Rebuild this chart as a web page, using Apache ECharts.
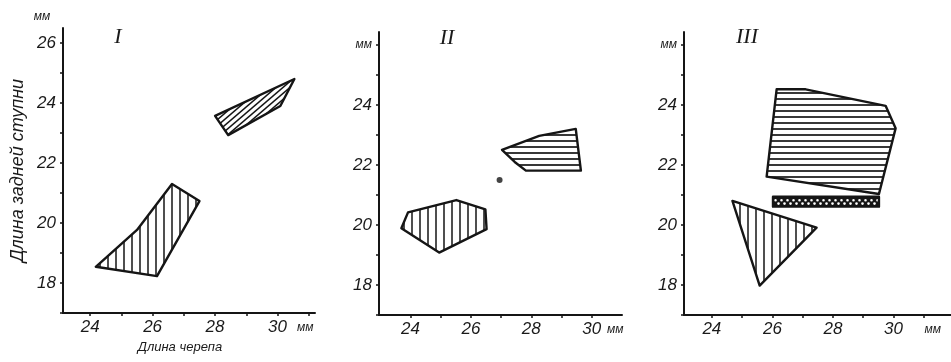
<!DOCTYPE html>
<html>
<head>
<meta charset="utf-8">
<script src="https://cdn.jsdelivr.net/npm/echarts@6/dist/echarts.min.js"></script>
<style>html,body{margin:0;padding:0;background:#fff}#c{width:951px;height:362px}</style>
</head>
<body>
<div id="c"></div>
<script>
// ---- data ----
const yTicks = [17, 18, 19, 20, 21, 22, 23, 24, 25, 26];
const yLabels = [18, 20, 22, 24, 26];
const xTicks = [24, 25, 26, 27, 28, 29, 30, 31];
const xLabels = [24, 26, 28, 30];
const panelNames = ['I', 'II', 'III'];

// Panel I
const p1Upper = [[28.0, 23.57], [28.42, 22.93], [30.09, 23.9], [30.54, 24.8]];
const p1Lower = [[24.18, 18.54], [26.14, 18.23], [27.5, 20.73], [26.62, 21.3], [25.5, 19.77]];
// Panel II
const p2Left = [[23.70, 19.89], [23.92, 20.42], [25.52, 20.83], [26.48, 20.52], [26.52, 19.86], [24.95, 19.08]];
const p2Right = [[27.03, 22.5], [28.26, 22.97], [29.47, 23.2], [29.64, 21.81], [27.82, 21.81], [27.45, 22.1]];
const p2Dot = [[26.95, 21.5]];
// Panel III
const p3Big = [[26.14, 24.52], [27.1, 24.52], [29.74, 23.97], [30.07, 23.22], [29.52, 21.03], [25.81, 21.61]];
const p3Band = [[26.02, 20.61], [29.52, 20.61], [29.52, 20.94], [26.02, 20.94]];
const p3Tri = [[24.68, 20.8], [27.46, 19.91], [25.58, 17.98]];

// ---- patterns ----
function mk(w, h, draw) {
  const c = document.createElement('canvas');
  c.width = w; c.height = h;
  const g = c.getContext('2d');
  draw(g, w, h);
  return { image: c, repeat: 'repeat' };
}
const INK = '#151515';
const vertHatch = mk(8, 8, (g, w, h) => {
  g.fillStyle = '#fff'; g.fillRect(0, 0, w, h);
  g.strokeStyle = INK; g.lineWidth = 1.5;
  g.beginPath(); g.moveTo(4, 0); g.lineTo(4, h); g.stroke();
});
const horHatch = mk(8, 6, (g, w, h) => {
  g.fillStyle = '#fff'; g.fillRect(0, 0, w, h);
  g.strokeStyle = INK; g.lineWidth = 1.7;
  g.beginPath(); g.moveTo(0, 3); g.lineTo(w, 3); g.stroke();
});
const diagHatch = mk(7, 6, (g, w, h) => {
  g.fillStyle = '#fff'; g.fillRect(0, 0, w, h);
  g.strokeStyle = INK; g.lineWidth = 1.5;
  for (let k = -1; k <= 1; k++) {
    g.beginPath(); g.moveTo(-w, 2 * h + k * h); g.lineTo(2 * w, -h + k * h); g.stroke();
  }
});
const dotFill = mk(6, 10, (g, w, h) => {
  g.fillStyle = INK; g.fillRect(0, 0, w, h);
  g.fillStyle = '#fff';
  g.beginPath(); g.arc(1.5, 0.3, 1.3, 0, Math.PI * 2); g.fill();
  g.beginPath(); g.arc(1.5, 10.3, 1.3, 0, Math.PI * 2); g.fill();
  g.beginPath(); g.arc(4.5, 3.6, 1.3, 0, Math.PI * 2); g.fill();
});

// ---- layout ----
const grids = [
  { left: 63, top: 28, width: 252, height: 285 },
  { left: 379, top: 32, width: 243, height: 283 },
  { left: 684, top: 32, width: 267, height: 283 }
];
const xRanges = [[23.13, 31.2], [22.96, 31.0], [23.08, 31.9]];
const yRanges = [[17, 26.5], [17, 26.43], [17, 26.43]];
const mmX = [30.89, 30.78, 31.3];

const FONT = 'Liberation Sans';
const lab = { fontFamily: FONT, fontStyle: 'italic', fontSize: 17, color: '#1a1a1a' };

const xAxes = grids.map((g, i) => ({
  type: 'value', gridIndex: i, min: xRanges[i][0], max: xRanges[i][1],
  axisLine: { show: true, onZero: false, lineStyle: { color: INK, width: 2 } },
  axisTick: { show: true, customValues: xTicks.filter(v => v < xRanges[i][1]), length: 3, lineStyle: { color: INK, width: 1.5 } },
  axisLabel: {
    customValues: xLabels.concat([mmX[i]]), margin: 6, ...lab,
    formatter: v => (Math.abs(v - mmX[i]) < 1e-6 ? '{m|мм}' : String(v)),
    rich: { m: { fontFamily: FONT, fontStyle: 'italic', fontSize: 12, color: '#1a1a1a', padding: [3, 0, 0, 0] } }
  },
  splitLine: { show: false },
  name: i === 0 ? 'Длина черепа' : '',
  nameLocation: 'middle', nameGap: 25,
  nameTextStyle: { fontFamily: FONT, fontStyle: 'italic', fontSize: 13, color: '#1a1a1a', padding: [0, 18, 0, 0] }
}));

const yAxes = grids.map((g, i) => ({
  type: 'value', gridIndex: i, min: yRanges[i][0], max: yRanges[i][1],
  axisLine: { show: true, onZero: false, lineStyle: { color: INK, width: 2 } },
  axisTick: { show: true, customValues: yTicks, length: 3, lineStyle: { color: INK, width: 1.5 } },
  axisLabel: {
    customValues: yLabels, margin: 7, ...lab,
    formatter: v => (i > 0 && v === 26 ? '{m|мм}' : String(v)),
    rich: { m: { fontFamily: FONT, fontStyle: 'italic', fontSize: 12, color: '#1a1a1a' } }
  },
  splitLine: { show: false }
}));
// panel I: y name
yAxes[0].name = 'Длина задней ступни';
yAxes[0].nameLocation = 'middle';
yAxes[0].nameGap = 36;
yAxes[0].nameTextStyle = { fontFamily: FONT, fontStyle: 'italic', fontSize: 18, color: '#1a1a1a' };

function poly(i, pts, fill) {
  return {
    type: 'custom', xAxisIndex: i, yAxisIndex: i, data: pts, silent: true, clip: false,
    renderItem: (params, api) => {
      if (params.dataIndex !== 0) return null;
      return {
        type: 'polygon',
        shape: { points: pts.map(p => api.coord(p)) },
        style: { fill: fill, stroke: INK, lineWidth: 2.4, lineJoin: 'round' }
      };
    }
  };
}

const series = [
  poly(0, p1Upper, diagHatch),
  poly(0, p1Lower, vertHatch),
  poly(1, p2Left, vertHatch),
  poly(1, p2Right, horHatch),
  { type: 'scatter', xAxisIndex: 1, yAxisIndex: 1, data: p2Dot, symbolSize: 6, itemStyle: { color: INK }, silent: true },
  poly(2, p3Big, horHatch),
  poly(2, p3Band, dotFill),
  poly(2, p3Tri, vertHatch)
];

const titlePos = [[118, 37], [447, 38], [747, 37]];
const graphic = panelNames.map((t, i) => ({
  type: 'text', x: titlePos[i][0], y: titlePos[i][1], silent: true,
  style: { text: t, align: 'center', verticalAlign: 'middle', fill: '#1a1a1a',
    font: 'italic 22px "Liberation Serif"' }
}));
graphic.push({
  type: 'text', x: 42, y: 17, silent: true,
  style: { text: 'мм', align: 'center', verticalAlign: 'middle', fill: '#1a1a1a', font: 'italic 12px "Liberation Sans"' }
});

const chart = echarts.init(document.getElementById('c'), null, { renderer: 'canvas' });
chart.setOption({
  animation: false,
  backgroundColor: '#fff',
  grid: grids,
  xAxis: xAxes,
  yAxis: yAxes,
  series: series,
  graphic: graphic
});
</script>
</body>
</html>
